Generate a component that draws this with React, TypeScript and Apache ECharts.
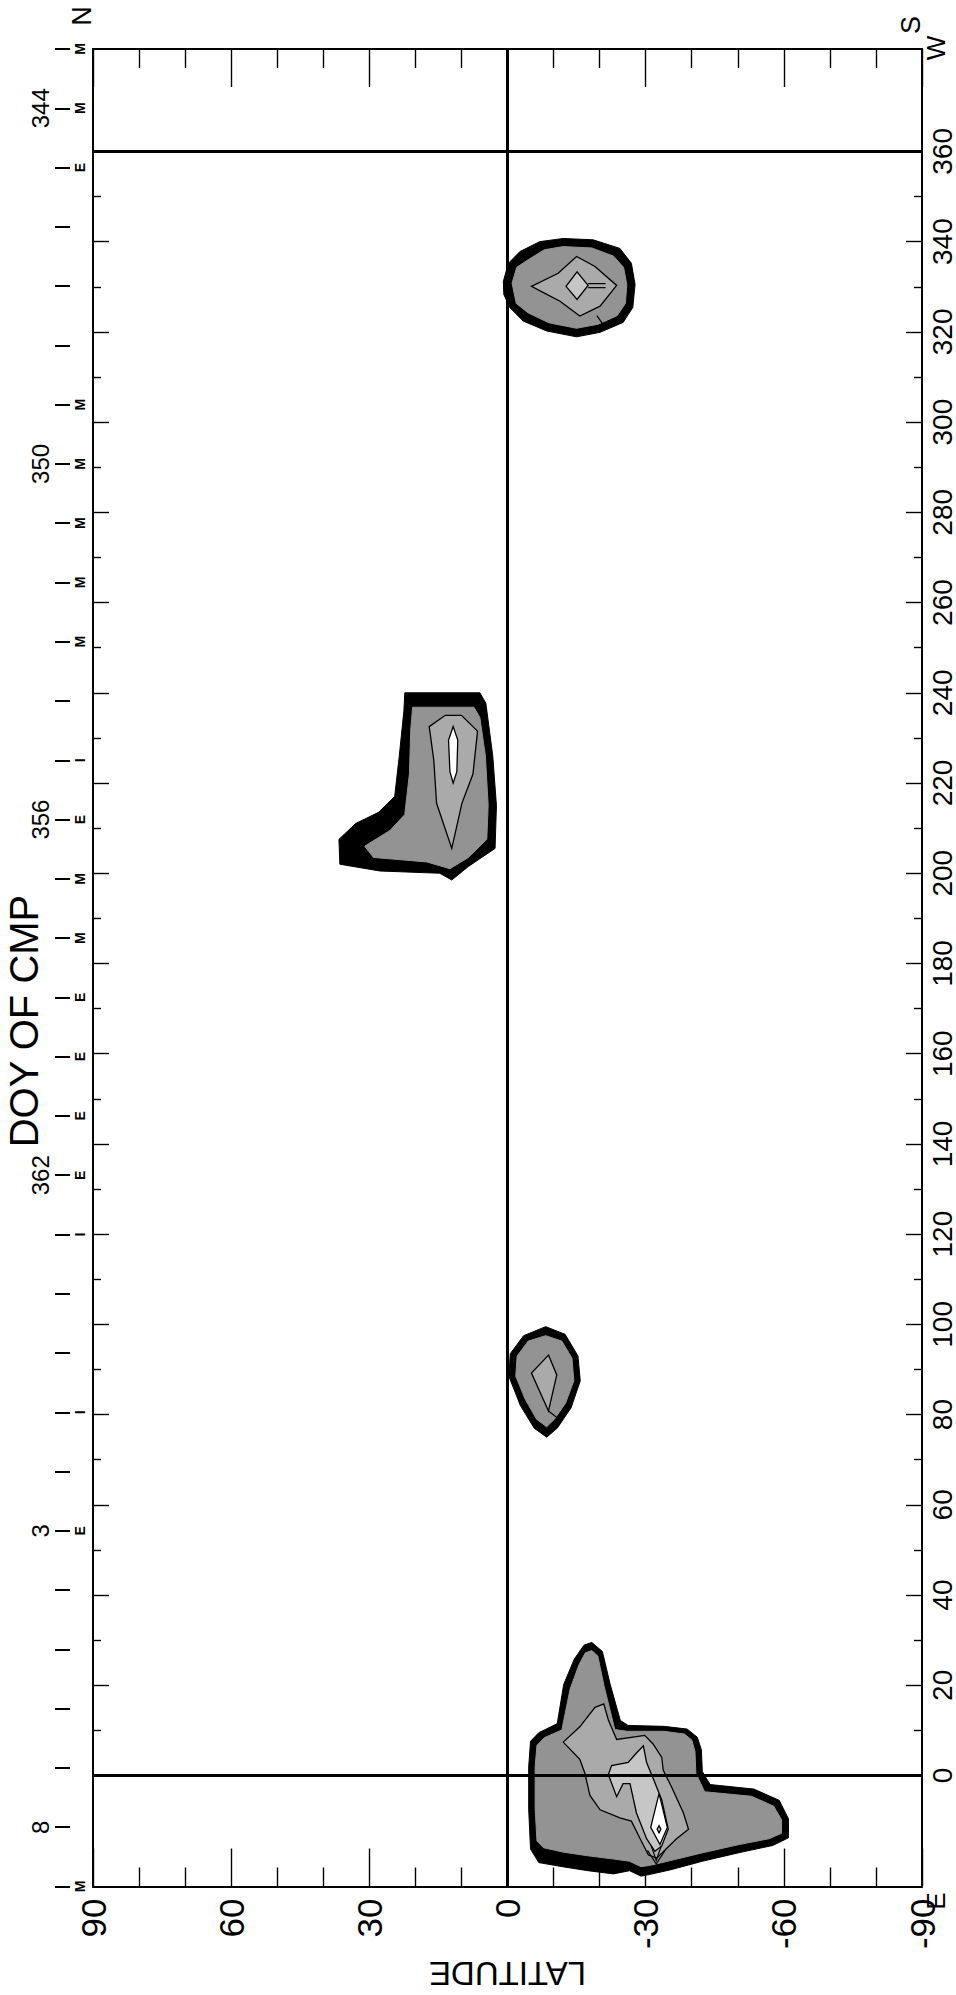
import React, { useEffect, useRef } from "react";
import * as echarts from "echarts";

// ---------- axis data ----------
const LON_MAJOR = [0, 20, 40, 60, 80, 100, 120, 140, 160, 180, 200, 220, 240, 260, 280, 300, 320, 340, 360];
const LON_MINOR = [10, 30, 50, 70, 90, 110, 130, 150, 170, 190, 210, 230, 250, 270, 290, 310, 330, 350];
const LON_RANGE = [-24.6, 382.7];
const DOY_DAYS = [343, 344, 345, 346, 347, 348, 349, 350, 351, 352, 353, 354, 355, 356, 357, 358, 359, 360, 361, 362, 363, 364, 365, 366, 367, 368, 369, 370, 371, 372, 373, 374];
const DOY_FLAGS = ["M", "M", "E", "", "", "", "M", "M", "M", "M", "M", "", "I", "E", "M", "M", "E", "E", "E", "E", "I", "", "", "I", "", "E", "", "", "", "", "", "M"];
const DOY_LABELED = [344, 350, 356, 362, 368, 373];
const DOY_RANGE = [343, 374];

// ---------- contour polygons [latitude, longitude] ----------
const C1_L0 = [[0.9, 331.2], [-0.2, 335.2], [-2.7, 337.8], [-7.0, 340.0], [-12.1, 340.7], [-18.6, 340.4], [-24.4, 338.5], [-26.9, 335.2], [-27.7, 330.5], [-27.2, 325.4], [-25.1, 322.1], [-20.1, 319.9], [-15.0, 318.9], [-8.5, 320.2], [-3.4, 322.4], [-0.5, 325.4], [0.8, 328.3]];
const C1_L1 = [[-1.0, 330.8], [-2.0, 334.3], [-4.5, 336.0], [-8.0, 338.2], [-12.1, 338.9], [-18.3, 338.6], [-23.0, 336.8], [-25.2, 334.3], [-25.9, 330.5], [-25.6, 326.3], [-23.8, 323.6], [-19.7, 321.7], [-15.0, 320.8], [-9.0, 322.0], [-4.5, 324.2], [-1.9, 326.3]];
const C1_L2 = [[-5.2, 330.1], [-11.0, 333.0], [-15.0, 336.7], [-19.0, 334.5], [-23.7, 330.3], [-20.1, 325.7], [-15.7, 323.5], [-11.4, 326.8], [-7.8, 328.7]];
const C1_L3 = [[-12.7, 330.1], [-15.1, 333.3], [-17.5, 330.3], [-15.1, 327.2]];
const C1_PRONG_A = [[-17.5, 330.7], [-21.3, 330.7]];
const C1_PRONG_B = [[-17.5, 329.8], [-21.3, 329.8]];
const C1_NOTCH = [[-19.4, 323.6], [-20.6, 321.9]];

const C2_L0 = [[22.3, 240.0], [6.0, 240.0], [4.7, 237.7], [3.2, 226.0], [2.4, 215.0], [2.7, 205.5], [8.5, 201.5], [12.1, 198.5], [14.7, 200.0], [27.7, 200.5], [36.4, 202.0], [36.6, 207.5], [33.0, 211.0], [28.0, 213.5], [24.5, 217.0], [23.5, 226.0], [22.5, 236.0]];
const C2_L1 = [[20.6, 236.8], [7.3, 236.8], [6.0, 234.5], [4.8, 226.0], [4.2, 215.0], [4.5, 207.5], [8.5, 203.5], [12.5, 201.0], [17.5, 202.5], [29.1, 203.5], [31.0, 206.0], [25.5, 209.5], [22.3, 213.0], [21.3, 222.0], [21.0, 232.0]];
const C2_L2 = [[17.0, 232.5], [13.5, 235.0], [10.0, 235.0], [6.5, 231.5], [7.5, 222.0], [9.9, 215.5], [12.1, 205.5], [15.4, 215.5], [16.0, 225.0]];
const C2_L3 = [[12.8, 229.5], [11.8, 232.5], [10.8, 229.5], [11.0, 222.5], [11.8, 220.0], [12.5, 222.5]];

const C3_L0 = [[-8.3, 99.5], [-12.5, 97.8], [-15.3, 93.0], [-15.8, 87.5], [-13.8, 81.5], [-10.8, 77.0], [-8.5, 75.0], [-5.8, 77.0], [-2.8, 82.0], [-0.3, 88.5], [-0.6, 93.5], [-3.5, 97.5]];
const C3_L1 = [[-8.3, 97.5], [-11.8, 96.3], [-14.0, 92.5], [-14.4, 87.5], [-12.6, 82.5], [-10.2, 79.0], [-8.5, 77.3], [-6.3, 79.0], [-3.8, 83.5], [-1.8, 88.5], [-2.1, 93.0], [-4.5, 96.3]];
const C3_L2 = [[-8.9, 93.2], [-10.7, 88.8], [-8.9, 80.8], [-5.2, 89.2]];
const C3_TAIL = [[-8.9, 80.8], [-10.3, 79.7], [-11.8, 78.6]];

const C4_L0 = [[-18.3, 29.5], [-20.6, 27.5], [-22.3, 20.2], [-24.5, 12.2], [-26.2, 11.1], [-34.0, 10.9], [-39.0, 10.3], [-41.2, 8.5], [-42.1, 5.7], [-42.3, 0.9], [-44.0, -2.0], [-53.5, -3.0], [-59.0, -5.5], [-61.0, -9.6], [-61.0, -13.8], [-57.6, -15.5], [-50.7, -17.0], [-42.3, -19.0], [-35.4, -20.9], [-31.0, -21.9], [-29.0, -22.3], [-26.5, -21.1], [-23.0, -21.8], [-17.5, -21.1], [-11.9, -20.2], [-6.8, -19.3], [-5.0, -16.3], [-4.6, -7.5], [-4.6, 1.9], [-5.0, 7.6], [-6.8, 9.5], [-10.8, 11.5], [-12.2, 20.2], [-14.5, 25.8], [-16.6, 28.9]];
const C4_L1 = [[-18.3, 27.7], [-19.6, 26.5], [-21.0, 19.7], [-23.3, 10.2], [-26.0, 9.8], [-34.0, 9.8], [-38.4, 9.2], [-40.0, 7.9], [-40.7, 5.4], [-40.9, 0.5], [-42.8, -3.6], [-53.0, -4.6], [-57.8, -6.8], [-59.5, -9.8], [-59.5, -12.8], [-56.8, -14.0], [-50.3, -15.3], [-42.0, -17.2], [-35.2, -18.9], [-31.0, -19.9], [-29.0, -20.2], [-26.5, -19.0], [-23.0, -18.5], [-17.5, -17.8], [-12.2, -17.0], [-7.8, -16.0], [-6.4, -14.5], [-6.0, -7.3], [-6.0, 1.9], [-6.4, 6.7], [-8.0, 8.4], [-11.8, 10.1], [-13.6, 19.2], [-15.5, 24.5], [-16.9, 27.2]];
const C4_L2 = [[-12.1, 7.4], [-15.7, 10.8], [-19.0, 15.1], [-20.9, 15.9], [-21.9, 12.3], [-23.7, 8.0], [-29.8, 8.9], [-31.6, 7.0], [-33.5, 4.0], [-33.8, 1.2], [-35.6, -2.5], [-38.2, -8.3], [-39.3, -11.9], [-36.7, -14.0], [-34.2, -16.5], [-32.4, -18.3], [-30.6, -17.6], [-28.8, -14.0], [-26.9, -10.1], [-24.4, -9.4], [-20.1, -7.6], [-17.9, -4.4], [-16.8, 0.5], [-15.7, 3.6]];
const C4_L3 = [[-29.5, 6.6], [-30.2, 2.9], [-31.3, 0.2], [-33.5, -5.4], [-34.9, -11.9], [-33.5, -15.6], [-32.0, -16.8], [-30.2, -14.0], [-28.0, -8.3], [-26.6, -1.8], [-25.1, -1.8], [-23.7, -4.7], [-21.9, 0.2], [-22.6, 2.2], [-26.2, 2.9], [-28.0, 5.0]];
const C4_L4 = [[-32.9, -4.0], [-34.7, -11.5], [-33.1, -15.3], [-31.1, -11.5]];
const C4_L5 = [[-32.9, -11.1], [-33.3, -11.9], [-32.9, -12.7], [-32.5, -11.9]];
const C4_V1 = [[-31.2, -15.6], [-32.3, -18.8], [-33.4, -15.6]];
const C4_V2 = [[-30.4, -16.6], [-32.3, -19.6], [-34.2, -16.6]];

// ---------- styles ----------
const FONT = "'Liberation Sans', Arial, Helvetica, sans-serif";
const BLACK = "#000000";
const G1 = "#939393";
const G2 = "#aaaaaa";
const G3 = "#c6c6c6";
const G4 = "#ffffff";

const LAYERS: { pts: number[][]; fill?: string; stroke?: boolean; line?: boolean }[] = [
  { pts: C1_L0, fill: BLACK }, { pts: C1_L1, fill: G1 }, { pts: C1_L2, fill: G2, stroke: true }, { pts: C1_L3, fill: G3, stroke: true },
  { pts: C1_PRONG_A, line: true }, { pts: C1_PRONG_B, line: true }, { pts: C1_NOTCH, line: true },
  { pts: C2_L0, fill: BLACK }, { pts: C2_L1, fill: G1 }, { pts: C2_L2, fill: G2, stroke: true }, { pts: C2_L3, fill: G4, stroke: true },
  { pts: C3_L0, fill: BLACK }, { pts: C3_L1, fill: G1 }, { pts: C3_L2, fill: G2, stroke: true }, { pts: C3_TAIL, line: true },
  { pts: C4_L0, fill: BLACK }, { pts: C4_L1, fill: G1 }, { pts: C4_L2, fill: G2, stroke: true }, { pts: C4_L3, fill: G3, stroke: true },
  { pts: C4_V2, line: true }, { pts: C4_V1, line: true },
  { pts: C4_L4, fill: G4, stroke: true }, { pts: C4_L5, fill: G3, stroke: true },
];

const tickStyle = { color: "#000", width: 1.4 };

function lonAxis(position: string, values: number[], length: number, showLine: boolean, showLabel: boolean) {
  return {
    type: "value",
    position,
    min: LON_RANGE[0],
    max: LON_RANGE[1],
    axisLine: { show: showLine, onZero: false, lineStyle: { color: "#000", width: 2 } },
    axisTick: { show: true, inside: true, length, customValues: values, lineStyle: tickStyle },
    axisLabel: {
      show: showLabel,
      customValues: values,
      rotate: 90,
      margin: 6,
      fontSize: 28,
      color: "#000",
      fontFamily: FONT,
    },
    splitLine: { show: false },
  };
}

function latAxis(position: string, showLabel: boolean) {
  return {
    type: "value",
    position,
    min: -90,
    max: 90,
    interval: 30,
    inverse: true,
    axisLine: { show: true, onZero: false, lineStyle: { color: "#000", width: 2 } },
    axisTick: { show: true, inside: true, length: 38, lineStyle: tickStyle },
    minorTick: { show: true, splitNumber: 3, length: 19, lineStyle: tickStyle },
    splitLine: { show: false },
    minorSplitLine: { show: false },
    axisLabel: {
      show: showLabel,
      rotate: 90,
      margin: 12,
      fontSize: 35,
      color: "#000",
      fontFamily: FONT,
      showMinLabel: true,
      showMaxLabel: true,
    },
    name: showLabel ? "LATITUDE" : "",
    nameLocation: "middle",
    nameGap: 57,
    nameRotate: 180,
    nameTextStyle: { fontSize: 33, color: "#000", fontFamily: FONT },
  };
}

function rotText(text: string, x: number, y: number, size: number) {
  return {
    type: "text",
    x,
    y,
    rotation: Math.PI / 2,
    style: {
      text,
      fill: "#000",
      fontSize: size,
      fontFamily: FONT,
      align: "center",
      verticalAlign: "middle",
      textAlign: "center",
      textVerticalAlign: "middle",
    },
  };
}

export default function App() {
  const ref = useRef<HTMLDivElement>(null);
  useEffect(() => {
    if (!ref.current) return;
    const chart = echarts.init(ref.current, null, { renderer: "svg" });
    const flagDays = DOY_DAYS.filter((d, i) => DOY_FLAGS[i] !== "");
    const option: any = {
      animation: false,
      backgroundColor: "#ffffff",
      grid: { left: 93, top: 49, width: 829, height: 1846, containLabel: false },
      xAxis: [latAxis("bottom", true), latAxis("top", false)],
      yAxis: [
        lonAxis("right", LON_MAJOR, 16, true, true),
        lonAxis("right", LON_MINOR, 8, false, false),
        lonAxis("left", LON_MAJOR, 16, true, false),
        lonAxis("left", LON_MINOR, 8, false, false),
        {
          type: "value",
          position: "left",
          offset: 23,
          min: DOY_RANGE[0],
          max: DOY_RANGE[1],
          inverse: true,
          axisLine: { show: false, onZero: false },
          axisTick: { show: true, inside: false, length: 15, customValues: DOY_DAYS, lineStyle: { color: "#000", width: 2 } },
          axisLabel: {
            show: true,
            customValues: DOY_LABELED,
            formatter: (v: number) => String(v > 365 ? v - 365 : v),
            rotate: 90,
            margin: 18,
            fontSize: 24,
            color: "#000",
            fontFamily: FONT,
          },
          splitLine: { show: false },
        },
        {
          type: "value",
          position: "left",
          offset: 0,
          min: DOY_RANGE[0],
          max: DOY_RANGE[1],
          inverse: true,
          axisLine: { show: false, onZero: false },
          axisTick: { show: false },
          axisLabel: {
            show: true,
            customValues: flagDays,
            formatter: (v: number) => DOY_FLAGS[DOY_DAYS.indexOf(Math.round(v))] || "",
            rotate: 90,
            margin: 6,
            fontSize: 14,
            fontWeight: "bold",
            color: "#000",
            fontFamily: FONT,
          },
          splitLine: { show: false },
        },
      ],
      graphic: [
        rotText("DOY OF CMP", 24, 1021, 40),
        rotText("N", 82, 16, 27),
        rotText("S", 911, 25, 27),
        rotText("W", 936, 48, 26),
        rotText("E", 936, 1901, 26),
      ],
      series: [
        {
          type: "custom",
          xAxisIndex: 0,
          yAxisIndex: 0,
          clip: true,
          data: LAYERS.map(() => [0, 100]),
          renderItem: (params: any, api: any) => {
            const layer = LAYERS[params.dataIndex];
            const pts = layer.pts.map((p) => api.coord(p));
            if (layer.line) {
              return { type: "polyline", shape: { points: pts }, style: { stroke: "#000", lineWidth: 1.2, fill: null } };
            }
            return {
              type: "polygon",
              shape: { points: pts },
              style: {
                fill: layer.fill,
                stroke: layer.stroke ? "#000" : layer.fill,
                lineWidth: layer.stroke ? 1.3 : 1,
              },
            };
          },
          markLine: {
            silent: true,
            symbol: ["none", "none"],
            label: { show: false },
            lineStyle: { color: "#000", width: 3, type: "solid" },
            data: [{ xAxis: 0 }, { yAxis: 0 }, { yAxis: 360 }],
          },
          z: 2,
        },
      ],
    };
    chart.setOption(option);
    return () => chart.dispose();
  }, []);
  return (
    <div
      ref={ref}
      style={{ position: "absolute", left: 0, top: 0, width: 956, height: 1995, background: "#fff" }}
    />
  );
}
